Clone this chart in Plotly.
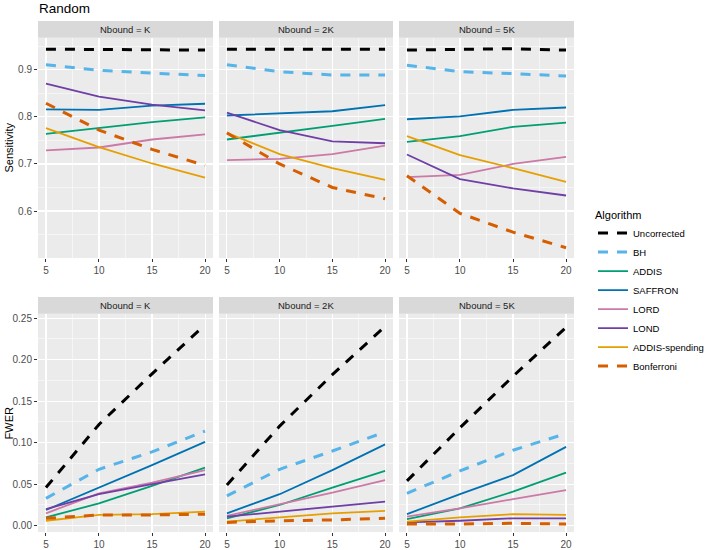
import plotly.graph_objects as go

x_vals = [5, 10, 15, 20]
panels = ["Nbound = K", "Nbound = 2K", "Nbound = 5K"]
algorithms = ["Uncorrected", "BH", "ADDIS", "SAFFRON", "LORD", "LOND", "ADDIS-spending", "Bonferroni"]

# Sensitivity per panel
sens_K = {
    "Uncorrected": [0.944, 0.943, 0.943, 0.942],
    "BH": [0.911, 0.899, 0.893, 0.888],
    "ADDIS": [0.764, 0.776, 0.789, 0.799],
    "SAFFRON": [0.816, 0.815, 0.824, 0.828],
    "LORD": [0.729, 0.735, 0.752, 0.763],
    "LOND": [0.871, 0.843, 0.826, 0.814],
    "ADDIS-spending": [0.776, 0.736, 0.701, 0.671],
    "Bonferroni": [0.829, 0.772, 0.731, 0.697],
}
sens_2K = {
    "Uncorrected": [0.944, 0.944, 0.944, 0.944],
    "BH": [0.911, 0.896, 0.889, 0.889],
    "ADDIS": [0.752, 0.766, 0.781, 0.796],
    "SAFFRON": [0.803, 0.808, 0.812, 0.825],
    "LORD": [0.708, 0.711, 0.721, 0.739],
    "LOND": [0.809, 0.772, 0.748, 0.744],
    "ADDIS-spending": [0.766, 0.721, 0.691, 0.666],
    "Bonferroni": [0.766, 0.700, 0.650, 0.626],
}
sens_5K = {
    "Uncorrected": [0.942, 0.943, 0.945, 0.942],
    "BH": [0.910, 0.896, 0.892, 0.887],
    "ADDIS": [0.747, 0.759, 0.779, 0.788],
    "SAFFRON": [0.795, 0.801, 0.815, 0.820],
    "LORD": [0.672, 0.677, 0.700, 0.715],
    "LOND": [0.720, 0.668, 0.648, 0.633],
    "ADDIS-spending": [0.759, 0.719, 0.691, 0.662],
    "Bonferroni": [0.675, 0.595, 0.555, 0.522],
}

# FWER per panel
fwer_K = {
    "Uncorrected": [0.046, 0.122, 0.183, 0.242],
    "BH": [0.033, 0.068, 0.089, 0.114],
    "ADDIS": [0.010, 0.027, 0.048, 0.070],
    "SAFFRON": [0.019, 0.046, 0.073, 0.101],
    "LORD": [0.015, 0.039, 0.052, 0.067],
    "LOND": [0.020, 0.038, 0.050, 0.062],
    "ADDIS-spending": [0.006, 0.013, 0.014, 0.017],
    "Bonferroni": [0.009, 0.013, 0.013, 0.014],
}
fwer_2K = {
    "Uncorrected": [0.049, 0.120, 0.182, 0.240],
    "BH": [0.036, 0.068, 0.090, 0.113],
    "ADDIS": [0.009, 0.025, 0.046, 0.066],
    "SAFFRON": [0.015, 0.038, 0.067, 0.098],
    "LORD": [0.012, 0.026, 0.040, 0.055],
    "LOND": [0.011, 0.017, 0.023, 0.029],
    "ADDIS-spending": [0.005, 0.010, 0.015, 0.018],
    "Bonferroni": [0.004, 0.006, 0.007, 0.009],
}
fwer_5K = {
    "Uncorrected": [0.054, 0.118, 0.180, 0.239],
    "BH": [0.039, 0.066, 0.091, 0.111],
    "ADDIS": [0.008, 0.021, 0.041, 0.064],
    "SAFFRON": [0.014, 0.038, 0.061, 0.095],
    "LORD": [0.011, 0.021, 0.032, 0.043],
    "LOND": [0.004, 0.006, 0.009, 0.009],
    "ADDIS-spending": [0.005, 0.010, 0.014, 0.013],
    "Bonferroni": [0.002, 0.002, 0.003, 0.002],
}

colors = {
    "Uncorrected": "#000000",
    "BH": "#56B4E9",
    "ADDIS": "#009E73",
    "SAFFRON": "#0072B2",
    "LORD": "#CC79A7",
    "LOND": "#6F3FA6",
    "ADDIS-spending": "#E69F00",
    "Bonferroni": "#D55E00",
}
dashed = {"Uncorrected", "BH", "Bonferroni"}

W, H = 709, 550
FONT = "Liberation Sans, Arial, sans-serif"

def PX(p):
    return p / W

def PY(p):
    return 1 - p / H

# panel pixel boxes
cols_px = [(38, 213), (219, 393), (399, 574)]
rows_px = [(37, 258), (314, 533)]

fig = go.Figure()
layout = dict(
    width=W, height=H, autosize=False,
    margin=dict(l=0, r=0, t=0, b=0),
    paper_bgcolor="white", plot_bgcolor="#EBEBEB",
    font=dict(family=FONT, color="#4D4D4D", size=10),
    showlegend=True,
)

data_rows = [[sens_K, sens_2K, sens_5K], [fwer_K, fwer_2K, fwer_5K]]
yranges = [[0.50, 0.968], [-0.0076, 0.2552]]
ytick = [dict(tickvals=[0.6, 0.7, 0.8, 0.9], ticktext=["0.6", "0.7", "0.8", "0.9"], minor_dtick=0.1, minor_tick0=0.55),
         dict(tickvals=[0, 0.05, 0.10, 0.15, 0.20, 0.25], ticktext=["0.00", "0.05", "0.10", "0.15", "0.20", "0.25"], minor_dtick=0.05, minor_tick0=0.025)]

shapes = []
annotations = []
idx = 0
for r in range(2):
    for c in range(3):
        idx += 1
        sfx = "" if idx == 1 else str(idx)
        xa = "x" + sfx
        ya = "y" + sfx
        d = data_rows[r][c]
        for alg in algorithms:
            fig.add_trace(go.Scatter(
                x=x_vals, y=d[alg], mode="lines", name=alg,
                xaxis=xa, yaxis=ya,
                line=dict(color=colors[alg],
                          width=3.0 if alg in dashed else 1.8,
                          dash="10px,9px" if alg in dashed else "solid"),
                showlegend=(idx == 1), legendgroup=alg,
                hoverinfo="skip",
            ))
        x0, x1 = cols_px[c]
        top, bot = rows_px[r]
        layout["xaxis" + sfx] = dict(
            domain=[PX(x0), PX(x1)], anchor=ya, range=[4.25, 20.75],
            tickvals=[5, 10, 15, 20], ticktext=["5", "10", "15", "20"],
            showgrid=True, gridcolor="white", gridwidth=1.1,
            minor=dict(dtick=2.5, tick0=0, showgrid=True, gridcolor="white", gridwidth=0.5),
            ticks="outside", ticklen=3, tickcolor="#333333", tickwidth=1,
            tickfont=dict(size=10, color="#4D4D4D", family=FONT),
            zeroline=False, showline=False, fixedrange=True,
        )
        yt = ytick[r]
        layout["yaxis" + sfx] = dict(
            domain=[PY(bot), PY(top)], anchor=xa, range=yranges[r],
            tickvals=yt["tickvals"], ticktext=yt["ticktext"],
            showticklabels=(c == 0), ticks="outside" if c == 0 else "",
            ticklen=3, tickcolor="#333333", tickwidth=1,
            showgrid=True, gridcolor="white", gridwidth=1.1,
            minor=dict(dtick=yt["minor_dtick"], tick0=yt["minor_tick0"], showgrid=True,
                       gridcolor="white", gridwidth=0.5),
            tickfont=dict(size=10, color="#4D4D4D", family=FONT),
            zeroline=False, showline=False, fixedrange=True,
        )
        # facet strip
        shapes.append(dict(type="rect", xref="paper", yref="paper",
                           x0=PX(x0), x1=PX(x1), y0=PY(top), y1=PY(top - 17),
                           fillcolor="#D9D9D9", line=dict(width=0), layer="below"))
        annotations.append(dict(text=panels[c], xref="paper", yref="paper",
                                x=PX((x0 + x1) / 2), y=PY(top - 8.5),
                                xanchor="center", yanchor="middle", showarrow=False,
                                font=dict(size=9.5, color="#1A1A1A", family=FONT)))

annotations.append(dict(text="Random", xref="paper", yref="paper", x=PX(37), y=PY(8),
                        xanchor="left", yanchor="middle", showarrow=False,
                        font=dict(size=13.5, color="#000000", family=FONT)))
annotations.append(dict(text="Sensitivity", xref="paper", yref="paper", x=PX(9), y=PY(147),
                        xanchor="center", yanchor="middle", showarrow=False, textangle=-90,
                        font=dict(size=11, color="#000000", family=FONT)))
annotations.append(dict(text="FWER", xref="paper", yref="paper", x=PX(9), y=PY(424),
                        xanchor="center", yanchor="middle", showarrow=False, textangle=-90,
                        font=dict(size=11, color="#000000", family=FONT)))

layout["shapes"] = shapes
layout["annotations"] = annotations
layout["legend"] = dict(
    x=PX(593), y=PY(204), xanchor="left", yanchor="top",
    title=dict(text="Algorithm", font=dict(size=11, color="#000000", family=FONT)),
    font=dict(size=9.5, color="#000000", family=FONT),
    bgcolor="rgba(0,0,0,0)", itemwidth=30, tracegroupgap=0,
)
fig.update_layout(**layout)
# remove the browser's default page margin so the figure fills the window exactly
fig.write_html("out.html",
               config={"displayModeBar": False, "staticPlot": True},
               post_script="document.body.style.margin='0';document.body.style.overflow='hidden';")
